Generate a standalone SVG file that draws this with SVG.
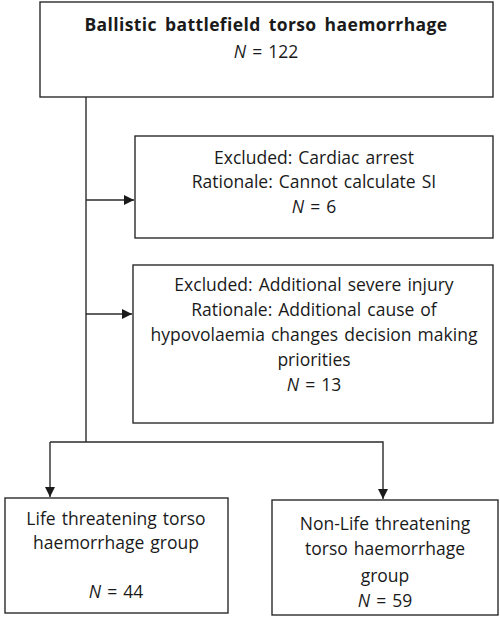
<svg xmlns="http://www.w3.org/2000/svg" width="500" height="617" viewBox="0 0 500 617">
<style>
.box{fill:#fff;stroke:#2b2b2b;stroke-width:1.4}
.t{font-family:"Open Sans","Liberation Sans",Arial,sans-serif;font-size:17.5px;word-spacing:1.5px;fill:#1a1a1a;text-anchor:middle}
.b{font-weight:bold;letter-spacing:0.4px;word-spacing:3px}
.c{fill:none;stroke:#2b2b2b;stroke-width:1.4}
</style>
<defs>
<marker id="ah" viewBox="0 0 10 10" refX="10" refY="5" markerWidth="10" markerHeight="10" markerUnits="userSpaceOnUse" orient="auto">
<path d="M0,0 L10,5 L0,10 Z" fill="#1a1a1a"/>
</marker>
</defs>
<rect width="500" height="617" fill="#fff"/>
<g id="connectors">
<path class="c" d="M86,97 V442"/>
<path class="c" d="M86,200 H134" marker-end="url(#ah)"/>
<path class="c" d="M86,314 H132" marker-end="url(#ah)"/>
<path class="c" d="M50,442 H383 V499" marker-end="url(#ah)"/>
<path class="c" d="M50,442 V497" marker-end="url(#ah)"/>
</g>
<g id="n1">
<rect class="box" x="40" y="2" width="453" height="95"/>
<text class="t b" x="266" y="31">Ballistic battlefield torso haemorrhage</text>
<text class="t" x="266" y="58"><tspan font-style="italic">N</tspan> = 122</text>
</g>
<g id="n2">
<rect class="box" x="135" y="136" width="358" height="102"/>
<text class="t" x="314" y="164">Excluded: Cardiac arrest</text>
<text class="t" x="314" y="188">Rationale: Cannot calculate SI</text>
<text class="t" x="314" y="213"><tspan font-style="italic">N</tspan> = 6</text>
</g>
<g id="n3">
<rect class="box" x="133" y="265" width="360" height="158"/>
<text class="t" x="314" y="291">Excluded: Additional severe injury</text>
<text class="t" x="314" y="316">Rationale: Additional cause of</text>
<text class="t" x="314" y="341">hypovolaemia changes decision making</text>
<text class="t" x="314" y="366">priorities</text>
<text class="t" x="314" y="391"><tspan font-style="italic">N</tspan> = 13</text>
</g>
<g id="n4">
<rect class="box" x="5" y="498" width="223" height="115"/>
<text class="t" x="116" y="525">Life threatening torso</text>
<text class="t" x="116" y="549">haemorrhage group</text>
<text class="t" x="116" y="598"><tspan font-style="italic">N</tspan> = 44</text>
</g>
<g id="n5">
<rect class="box" x="272" y="500" width="226" height="115"/>
<text class="t" x="385" y="530">Non-Life threatening</text>
<text class="t" x="385" y="555">torso haemorrhage</text>
<text class="t" x="385" y="582">group</text>
<text class="t" x="385" y="607"><tspan font-style="italic">N</tspan> = 59</text>
</g>
</svg>
